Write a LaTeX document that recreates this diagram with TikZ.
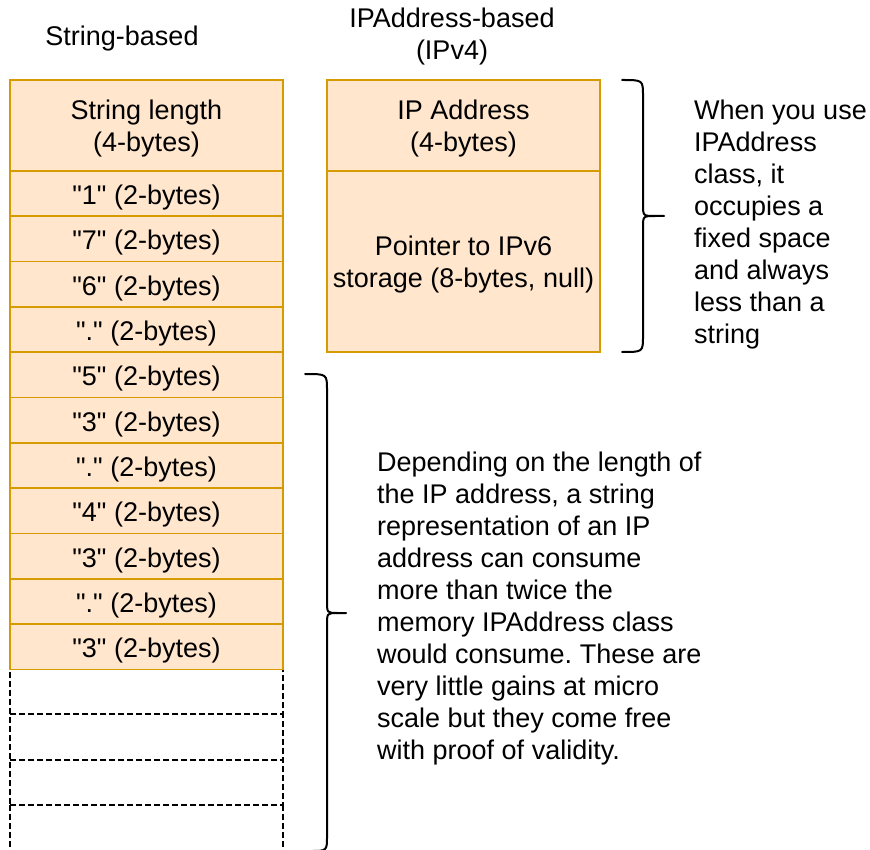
\documentclass[tikz,border=0pt]{standalone}
\usepackage{fontspec}
\setmainfont{Liberation Sans}
\frenchspacing
\definecolor{boxfill}{HTML}{FFE6CC}
\definecolor{boxline}{HTML}{D79B00}
\tikzset{
  cell/.style={draw=boxline, fill=boxfill, line width=1.6pt, minimum width=273pt, inner sep=0pt, outer sep=0pt, align=center, text depth=0pt},
  oneline/.style={cell, minimum height=45.3pt, text height=22pt},
  emptycell/.style={draw=black, dash pattern=on 6pt off 3pt, line width=2pt, minimum width=273pt, minimum height=45.3pt, inner sep=0pt, outer sep=0pt},
  curly/.style={draw=black, line width=2pt, line cap=round},
  note/.style={align=left, inner sep=0pt, anchor=west}
}
\begin{document}
\begin{tikzpicture}[x=1pt, y=-1pt, every node/.style={font=\fontsize{27}{32}\selectfont}]
      \useasboundingbox (0,0) rectangle (870,850);
      % headings
      \node (hstr) at (122,39) {String-based};
      \node[align=center] (hip) at (452,37) {IPAddress-based\\(IPv4)};
      % string-based column
      \foreach \i in {1,2,3}
        \node[emptycell] (e\i) at (146.5,{669+45.3*(\i-0.5)}) {};
      \node[emptycell, draw=none] (e4) at (146.5,{669+45.3*3.5}) {};
      \draw[emptycell] (e4.north west) -- (e4.south west) (e4.north east) -- (e4.south east);
      \node[cell, minimum height=91pt] (len) at (146.5,125.5) {String length\\(4-bytes)};
      \foreach \t [count=\i] in {1,7,6,.,5,3,.,4,3,.,3}
        \node[oneline] (c\i) at (146.5,{171+45.3*(\i-0.5)}) {\textquotedbl\t\textquotedbl{} (2-bytes)};
      % IPAddress-based column
      \node[cell, minimum height=91pt] (ip) at (463.5,125.5) {IP Address\\(4-bytes)};
      \node[cell, minimum height=181pt] (ptr) at (463.5,261.5) {Pointer to IPv6\\storage (8-bytes, null)};
      % braces
      \draw[curly] (622,80) .. controls (643,80) .. (643,96) -- (643,204) .. controls (643,216) .. (655,216) -- (664,216);
      \draw[curly] (655,216) .. controls (643,216) .. (643,228) -- (643,336) .. controls (643,352) .. (622,352);
      \draw[curly] (305,374) .. controls (327,374) .. (327,390) -- (327,601) .. controls (327,613) .. (338,613) -- (346,613);
      \draw[curly] (338,613) .. controls (327,613) .. (327,625) -- (327,836) .. controls (327,851) .. (310,851);
      % notes
      \node[note] (n1) at (694,225) {When you use\\IPAddress\\class, it\\occupies a\\fixed space\\and always\\less than a\\string};
      \node[note] (n2) at (377,609) {Depending on the length of\\the IP address, a string\\representation of an IP\\address can consume\\more than twice the\\memory IPAddress class\\would consume. These are\\very little gains at micro\\scale but they come free\\with proof of validity.};
    \end{tikzpicture}
\end{document}
